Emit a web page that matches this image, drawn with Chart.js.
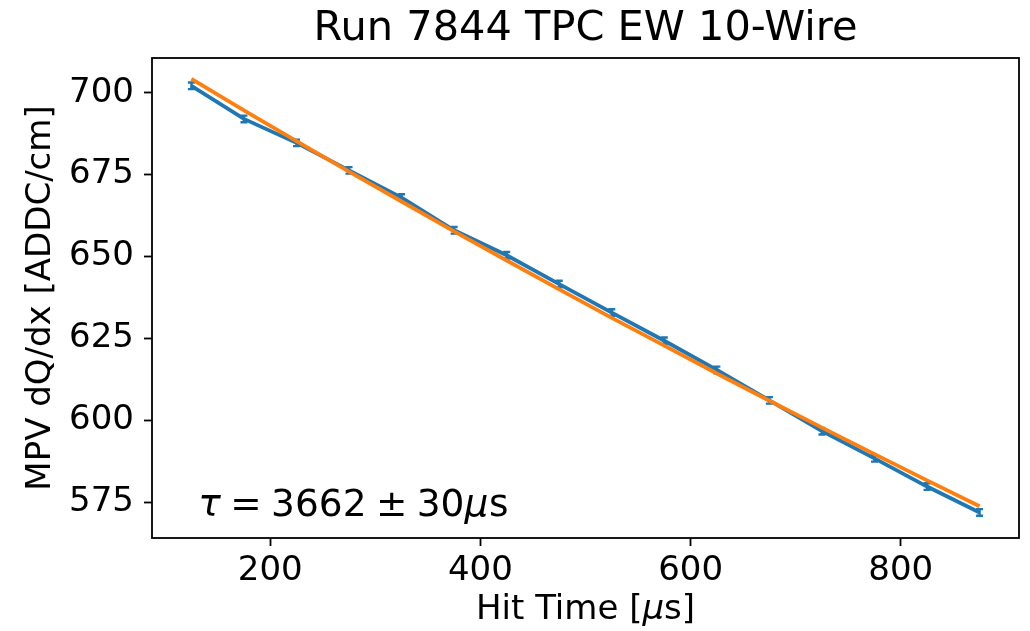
<!DOCTYPE html>
<html>
<head>
<meta charset="utf-8">
<script src="https://cdn.jsdelivr.net/npm/chart.js@4/dist/chart.umd.min.js"></script>
<style>
  html, body { margin: 0; padding: 0; background: #fff; }
  #wrap { width: 1030px; height: 631px; }
</style>
</head>
<body>
<div id="wrap"><canvas id="chart" width="1030" height="631"></canvas></div>
<script>
// Hit time bins (µs)
const hitTimes = [125, 175, 225, 275, 325, 375, 425, 475, 525, 575, 625, 675, 725, 775, 825, 875];
// MPV dQ/dx values
const mpvValues = [702.1, 692.0, 684.7, 676.3, 668.0, 658.0, 650.4, 641.6, 632.9, 624.3, 615.4, 606.1, 596.7, 588.4, 579.8, 571.9];
const mpvErrors = [1.0, 1.0, 1.0, 1.0, 1.0, 1.0, 1.0, 1.0, 1.0, 1.0, 1.0, 1.0, 1.0, 1.0, 1.0, 1.0];
// exponential fit curve
const fitValues = [704.2, 694.6, 685.2, 675.9, 666.8, 657.7, 648.8, 640.0, 631.3, 622.8, 614.3, 606.0, 597.8, 589.7, 581.7, 573.8];

const xTicks = [200, 400, 600, 800];
const yTicks = [575, 600, 625, 650, 675, 700];

const FONT = "'DejaVu Sans', sans-serif";
const BLUE = '#1f77b4';
const ORANGE = '#ff7f0e';

// lay out [text, style, gapAfterEm] pieces one after another
function drawPieces(ctx, pieces, x, y, size) {
  pieces.forEach(([s, style, gap]) => {
    ctx.font = style + ' ' + size + 'px ' + FONT;
    ctx.fillText(s, x, y);
    x += ctx.measureText(s).width + gap * size;
  });
}

// error bars with caps on the blue series
const errorBars = {
  id: 'errorBars',
  afterDatasetDraw(chart, args) {
    if (args.index !== 1) return;
    const ctx = chart.ctx;
    const xs = chart.scales.x, ys = chart.scales.y;
    ctx.save();
    ctx.strokeStyle = BLUE;
    ctx.lineWidth = 2.4;
    hitTimes.forEach((t, i) => {
      const px = xs.getPixelForValue(t);
      const y1 = ys.getPixelForValue(mpvValues[i] + mpvErrors[i]);
      const y2 = ys.getPixelForValue(mpvValues[i] - mpvErrors[i]);
      ctx.beginPath();
      ctx.moveTo(px, y1); ctx.lineTo(px, y2);
      ctx.moveTo(px - 3.5, y1); ctx.lineTo(px + 3.5, y1);
      ctx.moveTo(px - 3.5, y2); ctx.lineTo(px + 3.5, y2);
      ctx.stroke();
    });
    ctx.restore();
  }
};

// axes frame, x label with italic mu, tau annotation
const frameAndText = {
  id: 'frameAndText',
  afterDraw(chart) {
    const ctx = chart.ctx;
    const a = chart.chartArea;
    ctx.save();
    ctx.strokeStyle = '#000';
    ctx.lineWidth = 1.8;
    ctx.strokeRect(a.left, a.top, a.right - a.left, a.bottom - a.top);

    ctx.fillStyle = '#000';
    ctx.textAlign = 'left';

    // x axis label
    ctx.textBaseline = 'middle';
    const lab = [['Hit Time [', 'normal'], ['μ', 'italic'], ['s]', 'normal']];
    let w = 0;
    lab.forEach(([s, st]) => { ctx.font = st + ' 34px ' + FONT; w += ctx.measureText(s).width; });
    let lx = (a.left + a.right) / 2 - w / 2;
    lab.forEach(([s, st]) => {
      ctx.font = st + ' 34px ' + FONT;
      ctx.fillText(s, lx, 610);
      lx += ctx.measureText(s).width;
    });

    // tau text near the lower left corner of the axes (mathtext-like spacing)
    const x = a.left + 0.05 * (a.right - a.left) + 3;
    const y = a.bottom - 0.05 * (a.bottom - a.top) + 2;
    ctx.textBaseline = 'alphabetic';
    drawPieces(ctx, [
      ['τ', 'italic', 0.25],
      ['=', 'normal', 0.25],
      ['3662', 'normal', 0.25],
      ['±', 'normal', 0.25],
      ['30', 'normal', 0],
      ['μ', 'italic', 0.02],
      ['s', 'normal', 0]
    ], x, y, 37.5);
    ctx.restore();
  }
};

const ctx = document.getElementById('chart').getContext('2d');
new Chart(ctx, {
  type: 'line',
  data: {
    datasets: [
      {
        label: 'fit',
        data: hitTimes.map((t, i) => ({ x: t, y: fitValues[i] })),
        borderColor: ORANGE,
        borderWidth: 3.8,
        pointRadius: 0,
        tension: 0,
        order: 0
      },
      {
        label: 'MPV',
        data: hitTimes.map((t, i) => ({ x: t, y: mpvValues[i] })),
        borderColor: BLUE,
        borderWidth: 3.8,
        pointRadius: 0,
        tension: 0,
        order: 1
      }
    ]
  },
  options: {
    responsive: false,
    animation: false,
    devicePixelRatio: 1,
    layout: { padding: { left: 0, right: 11, top: 0, bottom: 0 } },
    plugins: {
      legend: { display: false },
      tooltip: { enabled: false },
      title: {
        display: true,
        text: 'Run 7844 TPC EW 10-Wire',
        color: '#000',
        fullSize: false,
        font: { family: FONT, size: 41.5, weight: 'normal', lineHeight: 1 },
        padding: { top: 8, bottom: 8.5 }
      }
    },
    scales: {
      x: {
        type: 'linear',
        min: 87.5,
        max: 912.5,
        afterBuildTicks: (scale) => { scale.ticks = xTicks.map(v => ({ value: v })); },
        afterFit: (scale) => { scale.height = 93; },
        ticks: {
          color: '#000',
          padding: 5,
          maxRotation: 0,
          font: { family: FONT, size: 34 }
        },
        grid: {
          drawOnChartArea: false,
          drawTicks: true,
          tickLength: 8,
          tickColor: '#000',
          tickWidth: 1.8
        },
        border: { display: false },
        title: { display: false }
      },
      y: {
        type: 'linear',
        min: 564.1,
        max: 710.6,
        afterBuildTicks: (scale) => { scale.ticks = yTicks.map(v => ({ value: v })); },
        afterFit: (scale) => { scale.width = 152; },
        ticks: {
          color: '#000',
          padding: 10,
          font: { family: FONT, size: 34 }
        },
        grid: {
          drawOnChartArea: false,
          drawTicks: true,
          tickLength: 8,
          tickColor: '#000',
          tickWidth: 1.8
        },
        border: { display: false },
        title: {
          display: true,
          text: 'MPV dQ/dx [ADDC/cm]',
          color: '#000',
          font: { family: FONT, size: 34, lineHeight: 1 },
          padding: { top: 24, bottom: 4 }
        }
      }
    }
  },
  plugins: [errorBars, frameAndText]
});
</script>
</body>
</html>
